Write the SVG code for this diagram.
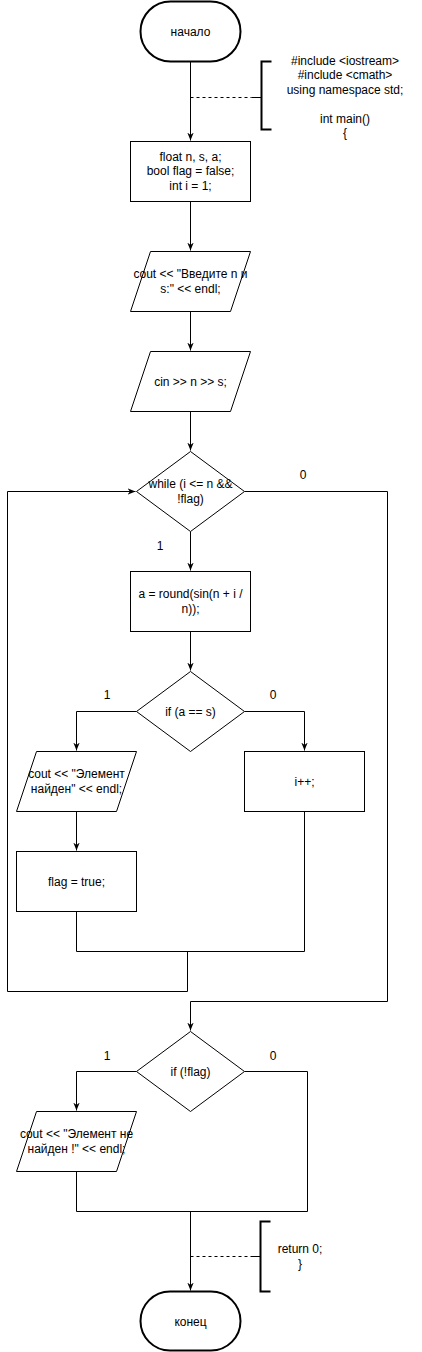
<svg xmlns="http://www.w3.org/2000/svg" width="422" height="1352" viewBox="0 0 422 1352">
<defs>
<marker id="arr" viewBox="0 0 10 10" refX="10" refY="5" markerWidth="8" markerHeight="8" markerUnits="userSpaceOnUse" orient="auto">
<path d="M0,1 L10,5 L0,9 L3,5 z" fill="#000"/>
</marker>
<style>
.s{fill:#fff;stroke:#000;stroke-width:1}
.t{fill:#fff;stroke:#000;stroke-width:2}
.c{fill:none;stroke:#000;stroke-width:1}
.b{fill:none;stroke:#000;stroke-width:2}
.d{fill:none;stroke:#000;stroke-width:1;stroke-dasharray:3 3}
text{font-family:"Liberation Sans",Arial,sans-serif;font-size:12px;fill:#000;text-anchor:middle}
</style>
</defs>
<rect width="422" height="1352" fill="#fff"/>
<g id="connectors">
<path class="c" d="M190.5,61.5 V140.5" marker-end="url(#arr)"/>
<path class="c" d="M190.5,201.5 V250.5" marker-end="url(#arr)"/>
<path class="c" d="M190.5,311.5 V350.5" marker-end="url(#arr)"/>
<path class="c" d="M190.5,411.5 V450.5" marker-end="url(#arr)"/>
<path class="c" d="M190.5,531.5 V570.5" marker-end="url(#arr)"/>
<path class="c" d="M190.5,631.5 V670.5" marker-end="url(#arr)"/>
<path class="c" d="M136.5,711.5 H76.5 V750.5" marker-end="url(#arr)"/>
<path class="c" d="M244.5,711.5 H304.5 V750.5" marker-end="url(#arr)"/>
<path class="c" d="M76.5,811.5 V850.5" marker-end="url(#arr)"/>
<path class="c" d="M76.5,911.5 V951.5 H304.5 V811.5"/>
<path class="c" d="M187.5,951.5 V991.5 H7.5 V491.5 H135.5" marker-end="url(#arr)"/>
<path class="c" d="M244.5,491.5 H387.5 V1001.5 H190.5 V1030.5" marker-end="url(#arr)"/>
<path class="c" d="M136.5,1071.5 H76.5 V1110.5" marker-end="url(#arr)"/>
<path class="c" d="M244.5,1071.5 H307.5 V1211.5 H76.5 V1171.5"/>
<path class="c" d="M190.5,1211.5 V1290.5" marker-end="url(#arr)"/>
<path class="d" d="M190.5,97.5 H251.5"/>
<path class="c" d="M251.5,97.5 H261.5"/>
<path class="d" d="M190.5,1256.5 H250.5"/>
<path class="c" d="M250.5,1256.5 H260.5"/>
<text x="303" y="479">0</text>
<text x="160" y="550">1</text>
<text x="107" y="699">1</text>
<text x="273" y="699">0</text>
<text x="107" y="1060">1</text>
<text x="273" y="1060">0</text>
</g>
<g id="start">
<rect class="t" x="140.5" y="1.5" width="100" height="60" rx="30" ry="30"/>
<text x="190.5" y="35.5">начало</text>
</g>
<g id="note1">
<path class="b" d="M271.5,61.5 H261.5 V129.5 H271.5"/>
<text x="345" y="65">#include &lt;iostream&gt;</text>
<text x="345" y="79.4">#include &lt;cmath&gt;</text>
<text x="345" y="93.8">using namespace std;</text>
<text x="345" y="122.6">int main()</text>
<text x="345" y="137">{</text>
</g>
<g id="decl">
<rect class="s" x="130.5" y="141.5" width="120" height="60"/>
<text x="190.5" y="161">float n, s, a;</text>
<text x="190.5" y="175.4">bool flag = false;</text>
<text x="190.5" y="189.8">int i = 1;</text>
</g>
<g id="out1">
<polygon class="s" points="150.5,251.5 250.5,251.5 230.5,311.5 130.5,311.5"/>
<text x="190.5" y="278.3">cout &lt;&lt; "Введите n и</text>
<text x="190.5" y="292.7">s:" &lt;&lt; endl;</text>
</g>
<g id="in1">
<polygon class="s" points="150.5,351.5 250.5,351.5 230.5,411.5 130.5,411.5"/>
<text x="190.5" y="385.5">cin &gt;&gt; n &gt;&gt; s;</text>
</g>
<g id="while">
<polygon class="s" points="190.5,451.5 244.5,491.5 190.5,531.5 136.5,491.5"/>
<text x="190.5" y="488.3">while (i &lt;= n &amp;&amp;</text>
<text x="190.5" y="502.7">!flag)</text>
</g>
<g id="calc">
<rect class="s" x="130.5" y="571.5" width="120" height="60"/>
<text x="190.5" y="598.3">a = round(sin(n + i /</text>
<text x="190.5" y="612.7">n));</text>
</g>
<g id="if1">
<polygon class="s" points="190.5,671.5 244.5,711.5 190.5,751.5 136.5,711.5"/>
<text x="190.5" y="715.5">if (a == s)</text>
</g>
<g id="out2">
<polygon class="s" points="36.5,751.5 136.5,751.5 116.5,811.5 16.5,811.5"/>
<text x="76.5" y="778.3">cout &lt;&lt; "Элемент</text>
<text x="76.5" y="792.7">найден" &lt;&lt; endl;</text>
</g>
<g id="inc">
<rect class="s" x="244.5" y="751.5" width="120" height="60"/>
<text x="304.5" y="785.5">i++;</text>
</g>
<g id="setflag">
<rect class="s" x="16.5" y="851.5" width="120" height="60"/>
<text x="76.5" y="885.5">flag = true;</text>
</g>
<g id="if2">
<polygon class="s" points="190.5,1031.5 244.5,1071.5 190.5,1111.5 136.5,1071.5"/>
<text x="190.5" y="1075.5">if (!flag)</text>
</g>
<g id="out3">
<polygon class="s" points="36.5,1111.5 136.5,1111.5 116.5,1171.5 16.5,1171.5"/>
<text x="76.5" y="1138.3">cout &lt;&lt; "Элемент не</text>
<text x="76.5" y="1152.7">найден !" &lt;&lt; endl;</text>
</g>
<g id="note2">
<path class="b" d="M270.5,1221.5 H260.5 V1291.5 H270.5"/>
<text x="300" y="1253">return 0;</text>
<text x="300" y="1268">}</text>
</g>
<g id="end">
<rect class="t" x="140.5" y="1291.5" width="100" height="59" rx="29.5" ry="29.5"/>
<text x="190.5" y="1325.5">конец</text>
</g>
</svg>
